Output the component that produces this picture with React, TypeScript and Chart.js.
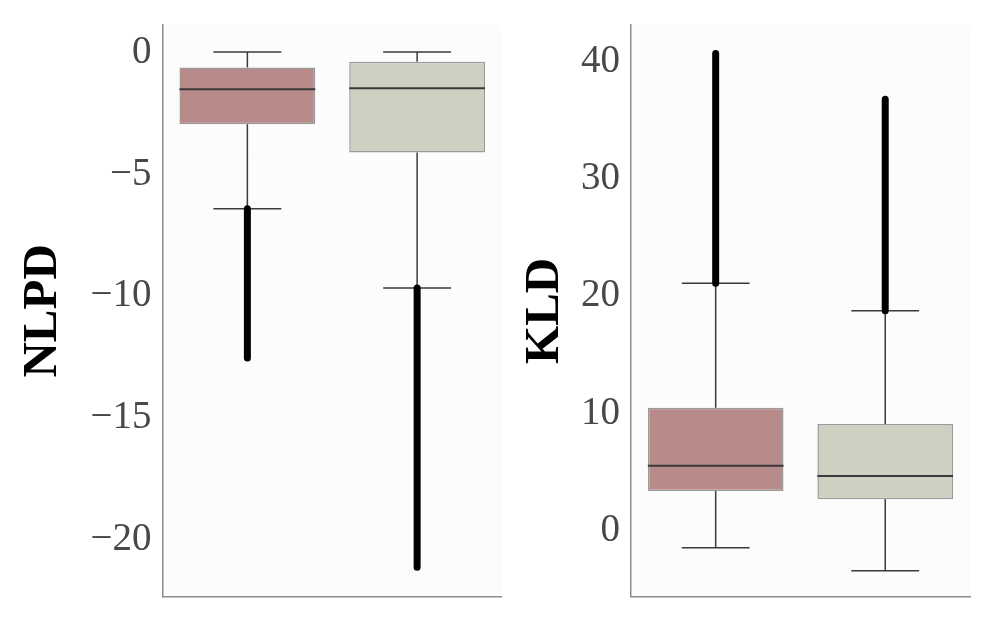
import React, { useEffect, useRef } from 'react';
import { Chart, registerables } from 'chart.js';

Chart.register(...registerables);

// ---------- data ----------
const POSITIONS = [0, 1];
const BOX_COLORS = ['#b98a8a', '#cfd0c1'];

const NLPD_TICKS = [-20, -15, -10, -5, 0];
const NLPD_WHISKER_HIGH = [0.03, 0.03];
const NLPD_Q3 = [-0.61, -0.37];
const NLPD_MEDIAN = [-1.5, -1.46];
const NLPD_Q1 = [-2.94, -4.1];
const NLPD_WHISKER_LOW = [-6.41, -9.67];
const NLPD_OUTLIER_FROM = [-6.41, -9.67];
const NLPD_OUTLIER_TO = [-12.55, -21.15];
const NLPD_LIMITS = [-22.36, 1.14];

const KLD_TICKS = [0, 10, 20, 30, 40];
const KLD_WHISKER_HIGH = [21.1, 18.77];
const KLD_Q3 = [10.5, 9.11];
const KLD_MEDIAN = [5.55, 4.67];
const KLD_Q1 = [3.39, 2.69];
const KLD_WHISKER_LOW = [-1.44, -3.4];
const KLD_OUTLIER_FROM = [21.1, 18.77];
const KLD_OUTLIER_TO = [40.7, 36.8];
const KLD_LIMITS = [-5.62, 43.13];

// ---------- styling ----------
const SERIF = "'Liberation Serif', 'DejaVu Serif', serif";
const SPINE = '#8c8c8c';
const LINE = '#3a3a3a';

type PanelProps = {
  title: string;
  ticks: number[];
  limits: number[];
  q1: number[];
  median: number[];
  q3: number[];
  wLow: number[];
  wHigh: number[];
  oFrom: number[];
  oTo: number[];
  canvasLeft: number;
  canvasWidth: number;
  axisWidth: number;
  padRight: number;
  titleOffset: number;
};

const bgPlugin = {
  id: 'plotBg',
  beforeDraw(chart: any) {
    const { ctx, chartArea } = chart;
    ctx.save();
    ctx.fillStyle = '#fcfcfc';
    ctx.fillRect(chartArea.left, chartArea.top, chartArea.right - chartArea.left, chartArea.bottom - chartArea.top);
    ctx.restore();
  },
};

function Panel(p: PanelProps) {
  const ref = useRef<HTMLCanvasElement | null>(null);
  useEffect(() => {
    if (!ref.current) return;
    const gap = (x: number) => ({ x, y: null as any });

    const outliers: any[] = [];
    const medians: any[] = [];
    const whiskers: any[] = [];
    POSITIONS.forEach((pos, i) => {
      outliers.push({ x: pos, y: p.oFrom[i] }, { x: pos, y: p.oTo[i] }, gap(pos));
      medians.push({ x: pos - 0.4, y: p.median[i] }, { x: pos + 0.4, y: p.median[i] }, gap(pos));
      whiskers.push(
        { x: pos, y: p.q3[i] }, { x: pos, y: p.wHigh[i] }, gap(pos),
        { x: pos, y: p.q1[i] }, { x: pos, y: p.wLow[i] }, gap(pos),
        { x: pos - 0.2, y: p.wHigh[i] }, { x: pos + 0.2, y: p.wHigh[i] }, gap(pos),
        { x: pos - 0.2, y: p.wLow[i] }, { x: pos + 0.2, y: p.wLow[i] }, gap(pos),
      );
    });
    const boxes = POSITIONS.map((pos, i) => ({ x: pos, y: [p.q1[i], p.q3[i]] }));

    const chart = new Chart(ref.current, {
      type: 'bar',
      data: {
        datasets: [
          {
            type: 'line',
            data: outliers,
            borderColor: '#000',
            borderWidth: 7,
            borderCapStyle: 'round',
            pointRadius: 0,
            spanGaps: false,
          } as any,
          {
            type: 'line',
            data: medians,
            borderColor: LINE,
            borderWidth: 2,
            pointRadius: 0,
            spanGaps: false,
          } as any,
          {
            type: 'line',
            data: whiskers,
            borderColor: LINE,
            borderWidth: 1.5,
            pointRadius: 0,
            spanGaps: false,
          } as any,
          {
            type: 'bar',
            data: boxes,
            backgroundColor: BOX_COLORS,
            borderColor: '#9a9a9a',
            borderWidth: 1.5,
            borderSkipped: false,
            barPercentage: 0.8,
            categoryPercentage: 1,
          } as any,
        ],
      },
      options: {
        responsive: false,
        animation: false,
        events: [],
        layout: { padding: { left: 0, right: p.padRight, top: 25, bottom: 26.3 } },
        plugins: { legend: { display: false }, tooltip: { enabled: false } },
        scales: {
          x: {
            type: 'linear',
            min: -0.5,
            max: 1.5,
            offset: false,
            grid: { display: false, drawTicks: false, offset: false },
            border: { display: true, color: SPINE, width: 1.5 },
            ticks: { display: false },
            afterBuildTicks: (scale: any) => {
              scale.ticks = POSITIONS.map((v) => ({ value: v }));
            },
            afterFit: (scale: any) => {
              scale.height = 0;
              scale.paddingLeft = 0;
              scale.paddingRight = 0;
            },
          },
          y: {
            type: 'linear',
            min: p.limits[0],
            max: p.limits[1],
            grid: { display: false, drawTicks: false },
            border: { display: true, color: SPINE, width: 1.5 },
            ticks: {
              autoSkip: false,
              padding: 11,
              color: '#484848',
              font: { family: SERIF, size: 39 },
              callback: (v: any) => (Number(v) < 0 ? '\u2212' + Math.abs(Number(v)) : String(v)),
            },
            afterBuildTicks: (scale: any) => {
              scale.ticks = p.ticks.map((v) => ({ value: v }));
            },
            afterFit: (scale: any) => {
              scale.width = p.axisWidth;
              scale.paddingTop = 0;
              scale.paddingBottom = 0;
            },
            title: {
              display: true,
              text: p.title,
              color: '#000',
              font: { family: SERIF, size: 49, weight: 'bold', lineHeight: 1 },
              padding: { top: p.titleOffset, bottom: 0 },
            },
          },
        },
      } as any,
      plugins: [bgPlugin],
    });
    return () => chart.destroy();
  }, []);

  return (
    <canvas
      ref={ref}
      width={p.canvasWidth}
      height={623}
      style={{ position: 'absolute', left: p.canvasLeft, top: 0, width: p.canvasWidth, height: 623 }}
    />
  );
}

export default function App() {
  return (
    <div style={{ position: 'absolute', left: 0, top: 0, width: 996, height: 623, background: '#fff', overflow: 'hidden' }}>
      <Panel
        title="NLPD"
        ticks={NLPD_TICKS}
        limits={NLPD_LIMITS}
        q1={NLPD_Q1}
        median={NLPD_MEDIAN}
        q3={NLPD_Q3}
        wLow={NLPD_WHISKER_LOW}
        wHigh={NLPD_WHISKER_HIGH}
        oFrom={NLPD_OUTLIER_FROM}
        oTo={NLPD_OUTLIER_TO}
        canvasLeft={0}
        canvasWidth={502}
        axisWidth={162.5}
        padRight={0}
        titleOffset={18.8}
      />
      <Panel
        title="KLD"
        ticks={KLD_TICKS}
        limits={KLD_LIMITS}
        q1={KLD_Q1}
        median={KLD_MEDIAN}
        q3={KLD_Q3}
        wLow={KLD_WHISKER_LOW}
        wHigh={KLD_WHISKER_HIGH}
        oFrom={KLD_OUTLIER_FROM}
        oTo={KLD_OUTLIER_TO}
        canvasLeft={502}
        canvasWidth={494}
        axisWidth={128.9}
        padRight={26}
        titleOffset={18.5}
      />
    </div>
  );
}
